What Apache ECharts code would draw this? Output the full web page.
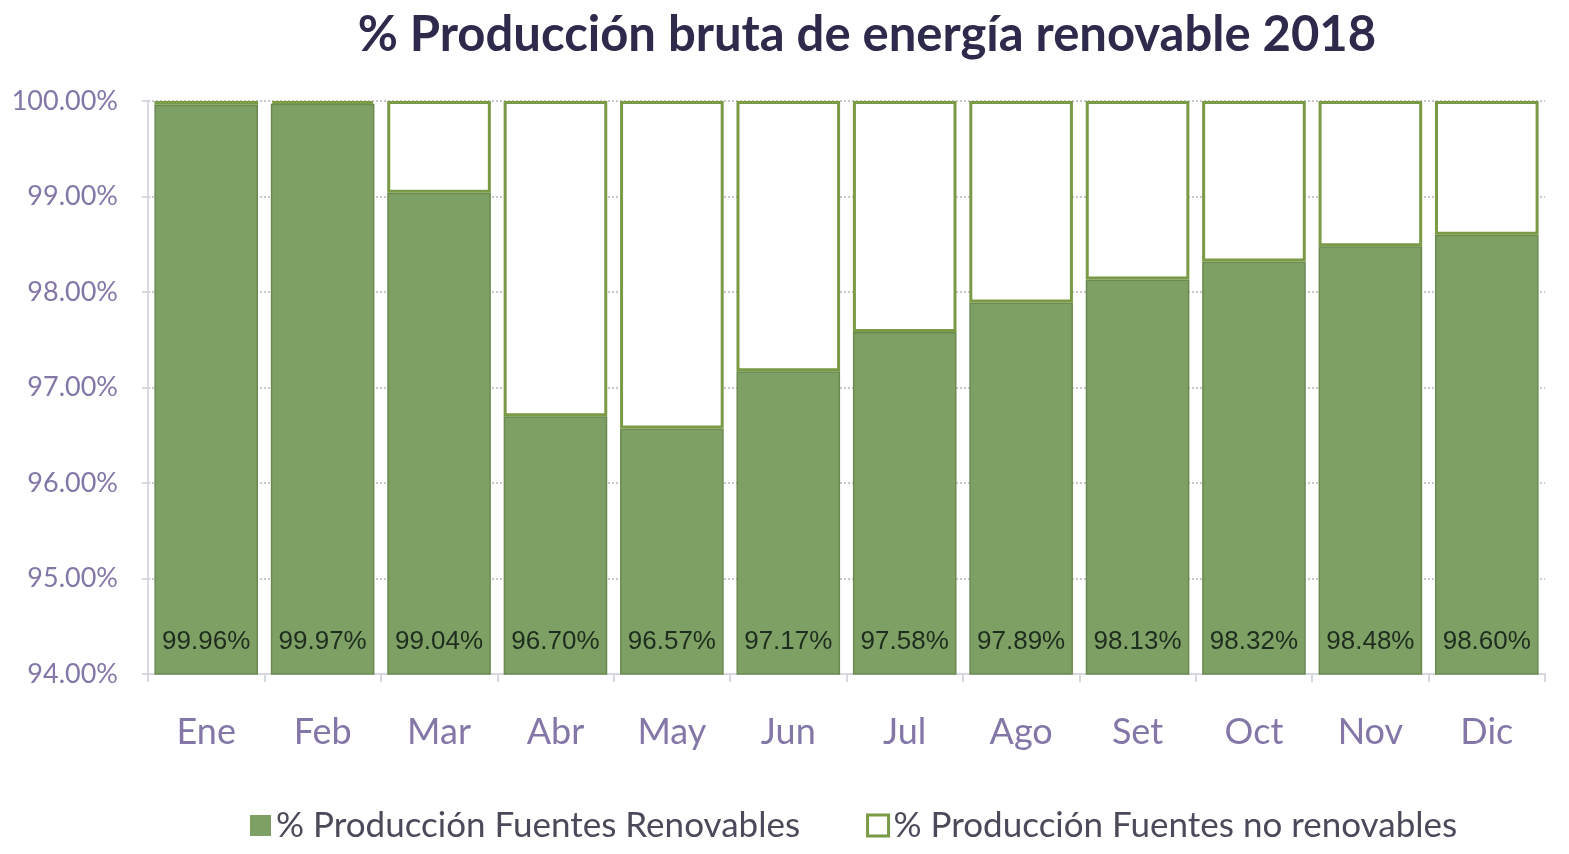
<!DOCTYPE html>
<html>
<head>
<meta charset="utf-8">
<script src="https://cdn.jsdelivr.net/npm/echarts@6/dist/echarts.min.js"></script>
<style>
  html, body { margin: 0; padding: 0; background: #fff; }
  #chart { width: 1569px; height: 854px; }
</style>
</head>
<body>
<div id="chart"></div>
<script>
// meses y porcentajes
const months = ['Ene', 'Feb', 'Mar', 'Abr', 'May', 'Jun', 'Jul', 'Ago', 'Set', 'Oct', 'Nov', 'Dic'];
const renovables = [99.96, 99.97, 99.04, 96.70, 96.57, 97.17, 97.58, 97.89, 98.13, 98.32, 98.48, 98.60];
const noRenovables = renovables.map(v => +(100 - v).toFixed(2));

const chart = echarts.init(document.getElementById('chart'));

const option = {
    backgroundColor: '#fff',
    animation: false,
    title: {
        text: '% Producción bruta de energía renovable 2018',
        left: 862,
        textAlign: 'center',
        top: 6,
        textStyle: {
            fontFamily: 'Lato',
            fontWeight: 'bold',
            fontSize: 49,
            color: '#2e2a4c'
        }
    },
    grid: {
        left: 148,
        right: 24,
        top: 101,
        bottom: 180
    },
    legend: {
        bottom: 6,
        left: 245,
        itemWidth: 21,
        itemHeight: 21,
        itemGap: 66,
        icon: 'rect',
        textStyle: {
            fontFamily: 'Lato',
            fontSize: 35,
            color: '#4a4a5a'
        },
        data: [
            { name: '% Producción Fuentes Renovables', itemStyle: { color: '#7ea065', borderWidth: 0 } },
            { name: '% Producción Fuentes no renovables', itemStyle: { color: '#fff', borderColor: '#7a9a45', borderWidth: 3 } }
        ]
    },
    xAxis: {
        type: 'category',
        data: months,
        axisLine: { lineStyle: { color: '#d8d8e0', width: 2 } },
        axisTick: { show: true, length: 8, lineStyle: { color: '#d8d8e0', width: 2 } },
        axisLabel: {
            fontFamily: 'Lato',
            fontSize: 36,
            color: '#8377a8',
            margin: 40
        }
    },
    yAxis: {
        type: 'value',
        min: 94,
        max: 100,
        interval: 1,
        axisLine: { show: true, lineStyle: { color: '#d8d8e0', width: 2 } },
        axisTick: { show: true, length: 6, lineStyle: { color: '#d8d8e0', width: 2 } },
        splitLine: { lineStyle: { type: 'dotted', color: '#c8c8c8', width: 2 } },
        axisLabel: {
            fontFamily: 'Lato',
            fontSize: 27,
            color: '#8377a8',
            margin: 30,
            formatter: v => v.toFixed(2) + '%'
        }
    },
    series: [
        {
            name: '% Producción Fuentes Renovables',
            type: 'bar',
            stack: 'total',
            barCategoryGap: '11%',
            data: renovables,
            itemStyle: {
                color: '#7ea065',
                borderColor: '#6a8a50',
                borderWidth: 1.5
            },
            label: {
                show: true,
                position: 'insideBottom',
                distance: 20,
                fontFamily: 'Liberation Sans',
                fontSize: 26,
                color: '#1e2d1e',
                formatter: p => p.value.toFixed(2) + '%'
            }
        },
        {
            name: '% Producción Fuentes no renovables',
            type: 'bar',
            stack: 'total',
            data: noRenovables,
            itemStyle: {
                color: '#fff',
                borderColor: '#7a9a45',
                borderWidth: 3
            }
        }
    ]
};

chart.setOption(option);
</script>
</body>
</html>
